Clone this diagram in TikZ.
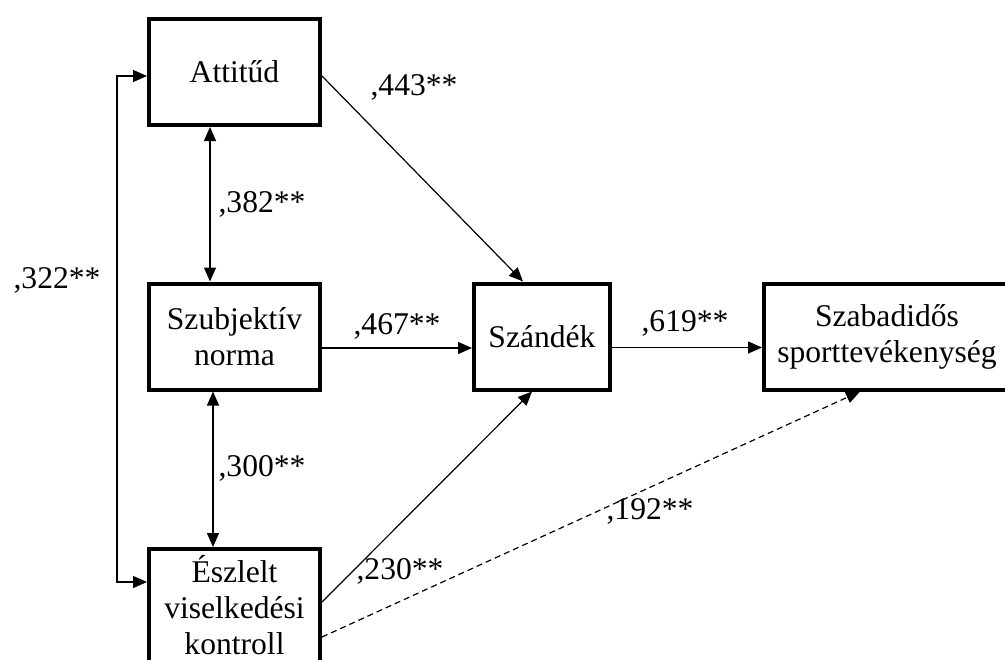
\documentclass[tikz,border=0pt]{standalone}
\usepackage{fontspec}
\setmainfont{Liberation Serif}
\usetikzlibrary{arrows.meta}

\begin{document}
\begin{tikzpicture}[x=0.5pt, y=-0.5pt, >={Triangle[length=7pt,width=6pt]}]
\tikzstyle{box} = [draw, line width=2pt, minimum width=85.5pt, minimum height=53pt, align=center, inner sep=2pt, font=\fontsize{15.8}{18}\selectfont]
\tikzstyle{lab} = [inner sep=0pt, align=center, font=\fontsize{15.8}{18}\selectfont]
\tikzstyle{every path} = [line width=0.6pt]
\useasboundingbox (0,0) rectangle (1005,659);
\node[box] (att) at (234.5, 72) {Attitűd};
\node[box] (szn) at (234.5, 336.5) {Szubjektív\\norma};
\node[box, minimum height=64pt] (esz) at (234.5, 613) {};
\node[lab] (esztxt) at (234.5, 605) {Észlelt\\viselkedési\\kontroll};
\node[box, minimum width=68pt] (szd) at (542, 336.5) {Szándék};
\node[box, minimum width=200pt] (spt) at (964, 336.5) {};
\node[lab] (spttxt) at (887, 336.5) {Szabadidős\\sporttevékenység};
% korrelaciok
\draw [<->] ([xshift=-12.25pt]att.south) -- ([xshift=-12.25pt]szn.north);
\draw [<->] ([xshift=-10.75pt]szn.south) -- ([xshift=-10.75pt]esz.north);
\draw [<->] ([yshift=-2pt]att.west) -- ++(-30,0) |- ([yshift=15.5pt]esz.west);
% utak
\draw [->] ([yshift=-2pt]att.east) -- ([xshift=-9.5pt]szd.north);
\draw [->] ([yshift=-5.75pt]szn.east) -- ([yshift=-5.75pt]szd.west);
\draw [->] ([yshift=-5.5pt]szd.east) -- ([yshift=-5.5pt]spt.west);
\draw [->] ([yshift=5.5pt]esz.east) -- ([xshift=-5pt]szd.south);
\draw [->, dash pattern=on 3pt off 2pt] ([yshift=-12pt]esz.east) -- ([xshift=-52pt]spt.south);
% egyutthatok
\node[lab] (p443) at (414, 87) {,443**};
\node[lab] (p382) at (262, 204) {,382**};
\node[lab] (p322) at (57, 280) {,322**};
\node[lab] (p467) at (397, 326) {,467**};
\node[lab] (p619) at (685, 323) {,619**};
\node[lab] (p300) at (262, 468) {,300**};
\node[lab] (p230) at (400, 571) {,230**};
\node[lab] (p192) at (650, 511) {,192**};
\end{tikzpicture}
\end{document}
